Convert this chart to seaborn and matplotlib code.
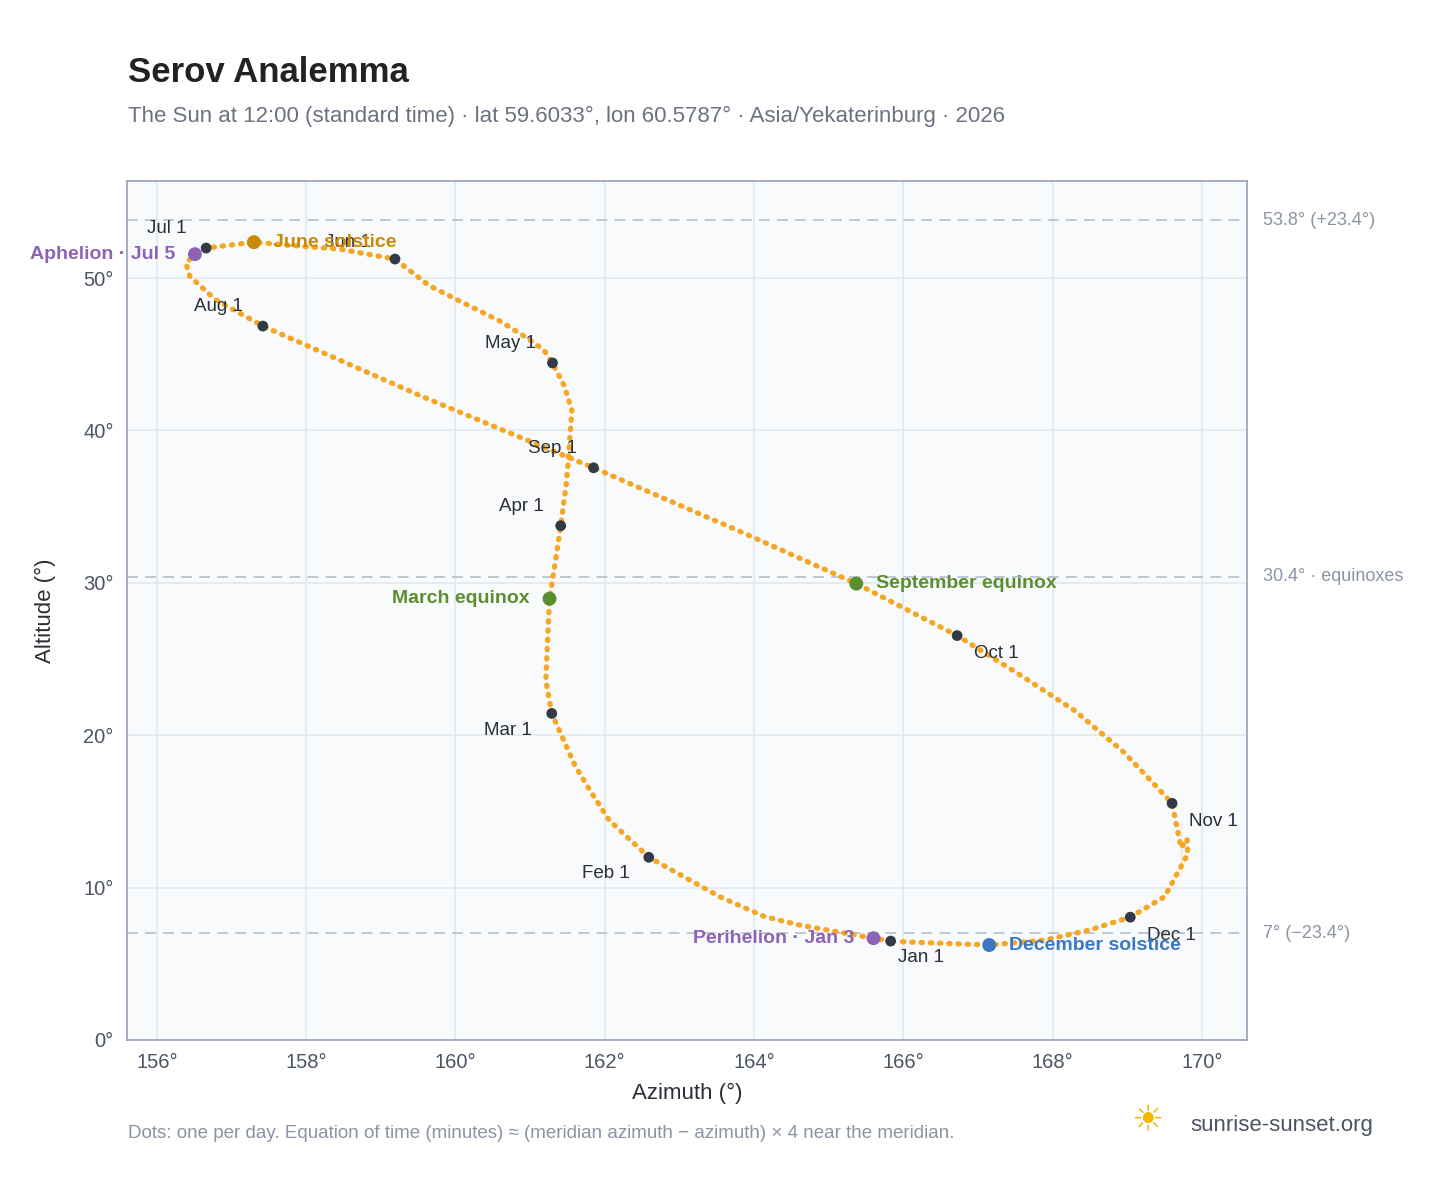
import matplotlib.pyplot as plt
import seaborn as sns

# Sun position at 12:00 (every few days along the curve)
path_az = [165.83, 165.60, 164.61, 164.14, 163.54, 162.59, 162.06, 161.80, 161.60, 161.29,
           161.21, 161.26, 161.34, 161.41, 161.49, 161.56, 161.46, 161.30, 161.18, 160.95,
           160.59, 160.19, 159.65, 159.19, 158.45, 157.91, 157.30, 156.66, 156.51, 156.39,
           156.44, 156.78, 157.42, 159.52, 161.85, 163.80, 165.37, 166.72, 167.55, 168.30,
           168.95, 169.30, 169.60, 169.72, 169.80, 169.81, 169.72, 169.50, 169.04, 168.49,
           167.89, 167.15, 165.95]
path_alt = [6.49, 6.68, 7.54, 8.10, 9.40, 11.99, 14.42, 16.40, 18.02, 21.43,
            23.60, 28.96, 31.45, 33.75, 36.70, 41.30, 42.90, 44.43, 45.30, 46.10,
            47.20, 48.17, 49.50, 51.25, 51.90, 52.10, 52.36, 51.97, 51.57, 50.98,
            50.13, 48.60, 46.85, 42.30, 37.55, 33.40, 29.95, 26.54, 24.00, 21.60,
            18.90, 17.10, 15.53, 14.30, 13.20, 12.20, 10.90, 9.40, 8.06, 7.21,
            6.55, 6.23, 6.45]

month_labels = ["Jan 1", "Feb 1", "Mar 1", "Apr 1", "May 1", "Jun 1",
                "Jul 1", "Aug 1", "Sep 1", "Oct 1", "Nov 1", "Dec 1"]
month_az = [165.83, 162.59, 161.29, 161.41, 161.30, 159.19, 156.66, 157.42, 161.85, 166.72, 169.60, 169.04]
month_alt = [6.49, 11.99, 21.43, 33.75, 44.43, 51.25, 51.97, 46.85, 37.55, 26.54, 15.53, 8.06]
# label offsets in points (dx, dy, ha)
month_offsets = [(22, -12, "center"), (-14, -12, "right"), (-14, -12, "right"), (-12, 14, "right"),
                 (-12, 14, "right"), (-34, 12, "center"), (-28, 14, "center"), (-32, 14, "center"),
                 (-12, 14, "right"), (12, -13, "left"), (12, -13, "left"), (12, -13, "left")]

event_labels = ["June solstice", "Aphelion · Jul 5", "March equinox", "September equinox",
                "December solstice", "Perihelion · Jan 3"]
event_az = [157.30, 156.51, 161.26, 165.37, 167.15, 165.60]
event_alt = [52.36, 51.57, 28.96, 29.95, 6.23, 6.68]
event_colors = ["#ca8a04", "#8e63b5", "#5b8f2e", "#5b8f2e", "#3a78c2", "#8e63b5"]
event_offsets = [(14, 0, "left"), (-14, 0, "right"), (-14, 0, "right"), (14, 0, "left"),
                 (14, 0, "left"), (-14, 0, "right")]

ref_alt = [53.8, 30.4, 7.0]
ref_text = ["53.8° (+23.4°)", "30.4° · equinoxes", "7° (−23.4°)"]

sns.set_theme(style="whitegrid")
plt.rcParams["font.family"] = ["Liberation Sans", "DejaVu Sans"]

fig = plt.figure(figsize=(14.48, 11.88), dpi=100)
ax = fig.add_axes([0.0877, 0.1246, 0.7733, 0.7234])
ax.set_facecolor("#f8fafc")
for s in ax.spines.values():
    s.set_color("#94a3b8")
    s.set_linewidth(1.2)
ax.grid(color="#e2e8f0", linewidth=1.2)

for y, t in zip(ref_alt, ref_text):
    ax.axhline(y, color="#b8c4cf", linestyle=(0, (6, 4)), linewidth=1.3, zorder=1)
    ax.annotate(t, (1, y), xycoords=("axes fraction", "data"), xytext=(12, 0),
                textcoords="offset points", va="center", fontsize=13, color="#8a94a3")

sns.lineplot(x=path_az, y=path_alt, sort=False, ax=ax, color="#f5a623",
             linewidth=3.8, linestyle=(0, (0.25, 1.5)), dash_capstyle="round", zorder=2)

sns.scatterplot(x=month_az, y=month_alt, ax=ax, color="#343a45", s=60, edgecolor="none", zorder=4)
for lab, x, y, (dx, dy, ha) in zip(month_labels, month_az, month_alt, month_offsets):
    ax.annotate(lab, (x, y), xytext=(dx, dy), textcoords="offset points", ha=ha, va="center",
                fontsize=13.5, color="#2b2f36", zorder=5)

sns.scatterplot(x=event_az, y=event_alt, ax=ax, hue=event_labels, palette=event_colors,
                s=100, edgecolor="none", legend=False, zorder=5)
for lab, x, y, c, (dx, dy, ha) in zip(event_labels, event_az, event_alt, event_colors, event_offsets):
    ax.annotate(lab, (x, y), xytext=(dx, dy), textcoords="offset points", ha=ha, va="center",
                fontsize=14, fontweight="bold", color=c, zorder=6)

ax.set_xlim(155.6, 170.6)
ax.set_ylim(0, 56.4)
ax.set_xticks(range(156, 171, 2))
ax.set_xticklabels([f"{v}°" for v in range(156, 171, 2)])
ax.set_yticks(range(0, 51, 10))
ax.set_yticklabels([f"{v}°" for v in range(0, 51, 10)])
ax.tick_params(labelsize=14.5, colors="#4b5563")
ax.set_xlabel("Azimuth (°)", fontsize=16, color="#2b2f36", labelpad=8)
ax.set_ylabel("Altitude (°)", fontsize=16, color="#2b2f36", labelpad=20)

fig.text(0.0884, 0.939, "Serov Analemma", fontsize=25, fontweight="bold", color="#222222", va="center")
fig.text(0.0884, 0.902, "The Sun at 12:00 (standard time) · lat 59.6033°, lon 60.5787° · Asia/Yekaterinburg · 2026",
         fontsize=16, color="#6b7280", va="center")
fig.text(0.0884, 0.046, "Dots: one per day. Equation of time (minutes) ≈ (meridian azimuth − azimuth) × 4 near the meridian.",
         fontsize=13.5, color="#8a94a3", va="center")
fig.text(0.822, 0.053, "sunrise-sunset.org", fontsize=16, color="#4b5563", va="center")
fig.text(0.792, 0.056, "☀", fontsize=26, color="#f5b800", va="center", ha="center")

fig.savefig("out.png", dpi=100)
